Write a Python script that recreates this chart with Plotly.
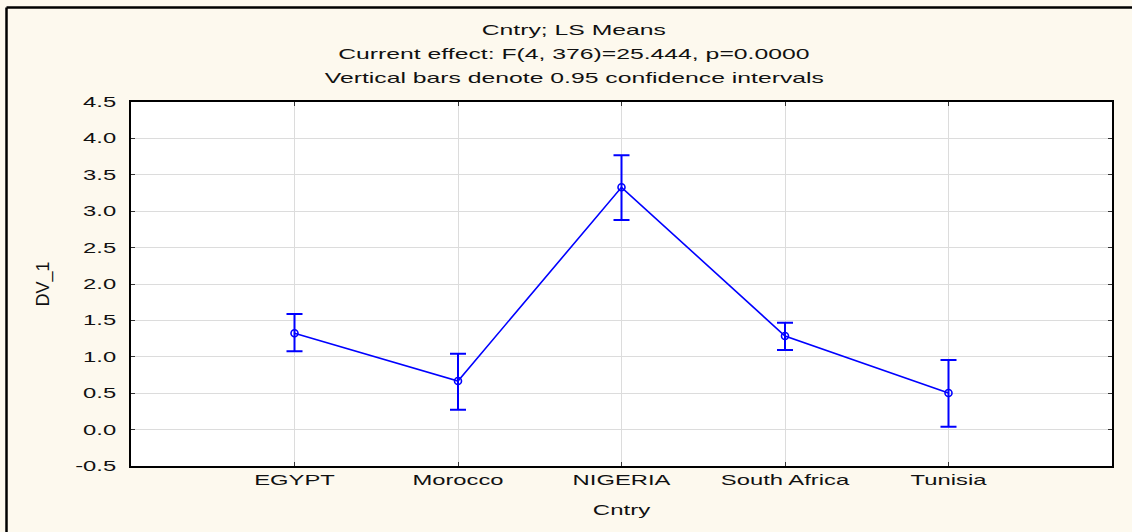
import plotly.graph_objects as go

countries = ["EGYPT", "Morocco", "NIGERIA", "South Africa", "Tunisia"]
means = [1.323, 0.668, 3.328, 1.286, 0.503]
upper = [1.588, 1.043, 3.768, 1.469, 0.956]
lower = [1.075, 0.274, 2.879, 1.093, 0.040]

y_ticks = [-0.5, 0.0, 0.5, 1.0, 1.5, 2.0, 2.5, 3.0, 3.5, 4.0, 4.5]
y_tick_text = ["-0.5", "0.0", "0.5", "1.0", "1.5", "2.0", "2.5", "3.0", "3.5", "4.0", "4.5"]

title_lines = ["Cntry; LS Means",
               "Current effect: F(4, 376)=25.444, p=0.0000",
               "Vertical bars denote 0.95 confidence intervals"]

x_idx = list(range(len(countries)))
err_plus = [u - m for u, m in zip(upper, means)]
err_minus = [m - l for m, l in zip(means, lower)]

BLUE = "#0000FF"
FONT = "Liberation Sans, Arial, sans-serif"
TXT = "#111111"

fig = go.Figure()
fig.add_trace(go.Scatter(
    x=x_idx, y=means, mode="lines+markers",
    line=dict(color=BLUE, width=1.6),
    marker=dict(symbol="circle-open", size=7, color=BLUE, line=dict(width=1.6, color=BLUE)),
    error_y=dict(type="data", symmetric=False, array=err_plus, arrayminus=err_minus,
                 color=BLUE, thickness=2, width=8),
    showlegend=False, hoverinfo="skip",
))

L, R, T, B = 131, 20, 102, 66
W, H = 1132, 532
pw, ph = W - L - R, H - T - B

def px_x(p):
    return (p - L) / pw

def px_y(p):
    return (H - B - p) / ph

annotations = []
for txt, yy in zip(title_lines, [29, 53, 77]):
    annotations.append(dict(text=txt, xref="paper", yref="paper", x=px_x(574), y=px_y(yy),
                            showarrow=False, xanchor="center", yanchor="middle",
                            font=dict(family=FONT, size=15, color=TXT)))

border = dict(color="#000000", width=2.5)
fig.update_layout(
    width=W, height=H,
    margin=dict(l=L, r=R, t=T, b=B),
    paper_bgcolor="#FDF9EE",
    plot_bgcolor="#FFFFFF",
    annotations=annotations,
    shapes=[
        dict(type="line", xref="paper", yref="paper",
             x0=px_x(6.5), x1=px_x(6.5), y0=px_y(7.5), y1=px_y(560), line=border, layer="below"),
        dict(type="line", xref="paper", yref="paper",
             x0=px_x(6.5), x1=px_x(1160), y0=px_y(7.5), y1=px_y(7.5), line=border, layer="below"),
    ],
    xaxis=dict(range=[-1, len(countries)], tickmode="array", tickvals=x_idx, ticktext=countries,
               showgrid=True, gridcolor="#DCDCDC", gridwidth=1,
               showline=True, linecolor="#000000", linewidth=2, mirror="ticks",
               ticks="inside", ticklen=4, tickcolor="#333333", zeroline=False,
               tickfont=dict(family=FONT, size=14, color=TXT),
               title=dict(text="Cntry", standoff=18,
                          font=dict(family=FONT, size=15, color=TXT))),
    yaxis=dict(range=[-0.5, 4.5], tickmode="array", tickvals=y_ticks, ticktext=y_tick_text,
               showgrid=True, gridcolor="#DCDCDC", gridwidth=1,
               showline=True, linecolor="#000000", linewidth=2, mirror="ticks",
               ticks="inside", ticklen=4, tickcolor="#333333", zeroline=False,
               ticklabelstandoff=10,
               tickfont=dict(family=FONT, size=14, color=TXT),
               title=dict(text="DV_1", standoff=38,
                          font=dict(family=FONT, size=18, color=TXT))),
)

# The reference image is horizontally stretched; widen the text glyphs around their anchors.
post_js = """
var gd = document.getElementById('{plot_id}');
function stretch(sel, s) {
  gd.querySelectorAll(sel).forEach(function (t) {
    var ax = parseFloat(t.getAttribute('x')) || 0;
    var old = t.getAttribute('transform') || '';
    t.setAttribute('transform', old + ' translate(' + ax + ',0) scale(' + s + ',1) translate(' + (-ax) + ',0)');
  });
}
stretch('.xtick text', 1.7);
stretch('.ytick text', 1.7);
stretch('.annotation-text', 1.65);
stretch('.xtitle', 1.6);
"""

fig.write_html("out.html", post_script=post_js)
